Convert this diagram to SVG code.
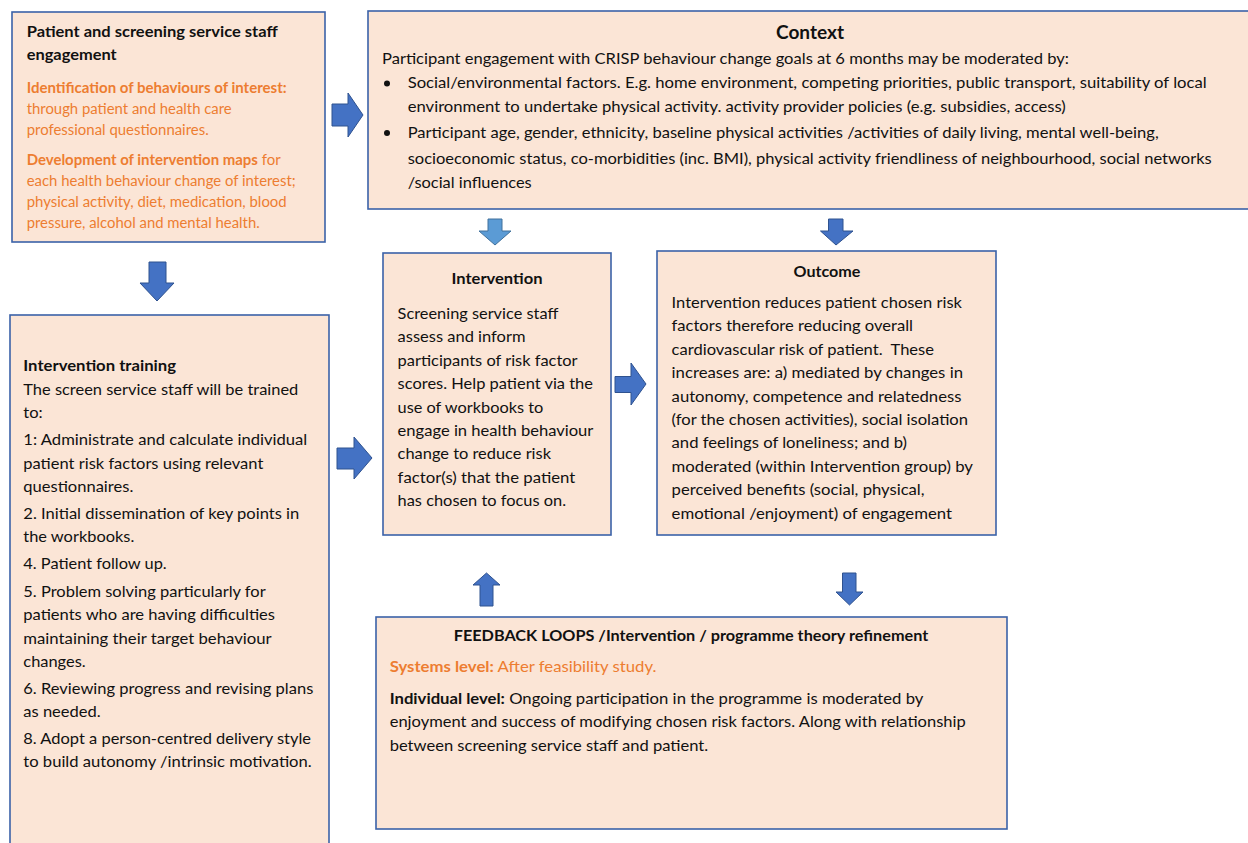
<svg xmlns="http://www.w3.org/2000/svg" width="1248" height="843" viewBox="0 0 1248 843">
<style>
.box{fill:#FBE5D6;stroke:#3B62A8;stroke-width:1.6}
text{font-family:Lato,"Liberation Sans",sans-serif;font-size:15px;fill:#111}
.b{font-weight:bold}
.o{fill:#ED7D31}
.s{font-size:14.5px}
.ttl{font-size:19px;font-weight:bold}
.arr{fill:#4472C4;stroke:#2F528F;stroke-width:1}
.arrl{fill:#5B9BD5;stroke:#41719C;stroke-width:1}
</style>
<rect width="1248" height="843" fill="#fff"/>

<g id="engagement">
<rect class="box" x="12" y="12" width="313" height="230"/>
<text class="b" x="26.7" y="37" textLength="251" lengthAdjust="spacingAndGlyphs">Patient and screening service staff</text>
<text class="b" x="26.7" y="59.5" textLength="90" lengthAdjust="spacingAndGlyphs">engagement</text>
<text class="o b s" x="26.7" y="93" textLength="260" lengthAdjust="spacingAndGlyphs">Identification of behaviours of interest:</text>
<text class="o s" x="26.7" y="114" textLength="205" lengthAdjust="spacingAndGlyphs">through patient and health care</text>
<text class="o s" x="26.7" y="135" textLength="182" lengthAdjust="spacingAndGlyphs">professional questionnaires.</text>
<text class="o s" x="26.7" y="165" textLength="254" lengthAdjust="spacingAndGlyphs"><tspan class="o b">Development of intervention maps</tspan> for</text>
<text class="o s" x="26.7" y="186" textLength="269" lengthAdjust="spacingAndGlyphs">each health behaviour change of interest;</text>
<text class="o s" x="26.7" y="207" textLength="260" lengthAdjust="spacingAndGlyphs">physical activity, diet, medication, blood</text>
<text class="o s" x="26.7" y="227.5" textLength="233" lengthAdjust="spacingAndGlyphs">pressure, alcohol and mental health.</text>
</g>

<g id="context">
<rect class="box" x="368" y="11" width="886" height="198"/>
<text class="ttl" x="810" y="39" text-anchor="middle" textLength="68" lengthAdjust="spacingAndGlyphs">Context</text>
<text x="382" y="64" textLength="687" lengthAdjust="spacingAndGlyphs">Participant engagement with CRISP behaviour change goals at 6 months may be moderated by:</text>
<circle cx="387" cy="83.5" r="3" fill="#111"/>
<text x="407.7" y="88.3" textLength="799" lengthAdjust="spacingAndGlyphs">Social/environmental factors. E.g. home environment, competing priorities, public transport, suitability of local</text>
<text x="407.7" y="112" textLength="658" lengthAdjust="spacingAndGlyphs">environment to undertake physical activity. activity provider policies (e.g. subsidies, access)</text>
<circle cx="387" cy="133" r="3" fill="#111"/>
<text x="407.7" y="138" textLength="751" lengthAdjust="spacingAndGlyphs">Participant age, gender, ethnicity, baseline physical activities /activities of daily living, mental well-being,</text>
<text x="407.7" y="163.5" textLength="804" lengthAdjust="spacingAndGlyphs">socioeconomic status, co-morbidities (inc. BMI), physical activity friendliness of neighbourhood, social networks</text>
<text x="407.7" y="188" textLength="124" lengthAdjust="spacingAndGlyphs">/social influences</text>
</g>

<g id="intervention">
<rect class="box" x="383" y="253" width="228" height="282"/>
<text class="b" x="497" y="284" text-anchor="middle" textLength="91" lengthAdjust="spacingAndGlyphs">Intervention</text>
<text x="397.6" y="319" textLength="160.7" lengthAdjust="spacingAndGlyphs">Screening service staff</text>
<text x="397.6" y="342.4" textLength="127.9" lengthAdjust="spacingAndGlyphs">assess and inform</text>
<text x="397.6" y="365.8" textLength="180" lengthAdjust="spacingAndGlyphs">participants of risk factor</text>
<text x="397.6" y="389.2" textLength="195.4" lengthAdjust="spacingAndGlyphs">scores. Help patient via the</text>
<text x="397.6" y="412.6" textLength="145.7" lengthAdjust="spacingAndGlyphs">use of workbooks to</text>
<text x="397.6" y="436" textLength="195.8" lengthAdjust="spacingAndGlyphs">engage in health behaviour</text>
<text x="397.6" y="459.4" textLength="153.4" lengthAdjust="spacingAndGlyphs">change to reduce risk</text>
<text x="397.6" y="482.8" textLength="177.7" lengthAdjust="spacingAndGlyphs">factor(s) that the patient</text>
<text x="397.6" y="506.2" textLength="168.4" lengthAdjust="spacingAndGlyphs">has chosen to focus on.</text>
</g>

<g id="outcome">
<rect class="box" x="657" y="251" width="339" height="284"/>
<text class="b" x="827" y="276.5" text-anchor="middle" textLength="67" lengthAdjust="spacingAndGlyphs">Outcome</text>
<text x="671.6" y="308" textLength="290.4" lengthAdjust="spacingAndGlyphs">Intervention reduces patient chosen risk</text>
<text x="671.6" y="331.4" textLength="241.4" lengthAdjust="spacingAndGlyphs">factors therefore reducing overall</text>
<text x="671.6" y="354.8" textLength="262.4" lengthAdjust="spacingAndGlyphs" style="white-space:pre">cardiovascular risk of patient.  These</text>
<text x="671.6" y="378.2" textLength="291.4" lengthAdjust="spacingAndGlyphs">increases are: a) mediated by changes in</text>
<text x="671.6" y="401.6" textLength="289.8" lengthAdjust="spacingAndGlyphs">autonomy, competence and relatedness</text>
<text x="671.6" y="425" textLength="296.4" lengthAdjust="spacingAndGlyphs">(for the chosen activities), social isolation</text>
<text x="671.6" y="448.4" textLength="235.4" lengthAdjust="spacingAndGlyphs">and feelings of loneliness; and b)</text>
<text x="671.6" y="471.8" textLength="301.4" lengthAdjust="spacingAndGlyphs">moderated (within Intervention group) by</text>
<text x="671.6" y="495.2" textLength="253" lengthAdjust="spacingAndGlyphs">perceived benefits (social, physical,</text>
<text x="671.6" y="518.6" textLength="280.4" lengthAdjust="spacingAndGlyphs">emotional /enjoyment) of engagement</text>
</g>

<g id="training">
<rect class="box" x="10" y="315" width="319" height="540"/>
<text class="b" x="23.3" y="371" textLength="152.7" lengthAdjust="spacingAndGlyphs">Intervention training</text>
<text x="23.3" y="395" textLength="275" lengthAdjust="spacingAndGlyphs">The screen service staff will be trained</text>
<text x="23.3" y="418" textLength="19.4" lengthAdjust="spacingAndGlyphs">to:</text>
<text x="23.3" y="445" textLength="284" lengthAdjust="spacingAndGlyphs">1: Administrate and calculate individual</text>
<text x="23.3" y="468.7" textLength="240" lengthAdjust="spacingAndGlyphs">patient risk factors using relevant</text>
<text x="23.3" y="492" textLength="110" lengthAdjust="spacingAndGlyphs">questionnaires.</text>
<text x="23.3" y="519" textLength="276" lengthAdjust="spacingAndGlyphs">2. Initial dissemination of key points in</text>
<text x="23.3" y="542" textLength="111" lengthAdjust="spacingAndGlyphs">the workbooks.</text>
<text x="23.3" y="569.4" textLength="143.4" lengthAdjust="spacingAndGlyphs">4. Patient follow up.</text>
<text x="23.3" y="596.6" textLength="242.4" lengthAdjust="spacingAndGlyphs">5. Problem solving particularly for</text>
<text x="23.3" y="619.8" textLength="251.7" lengthAdjust="spacingAndGlyphs">patients who are having difficulties</text>
<text x="23.3" y="643.6" textLength="248.4" lengthAdjust="spacingAndGlyphs">maintaining their target behaviour</text>
<text x="23.3" y="667" textLength="62.4" lengthAdjust="spacingAndGlyphs">changes.</text>
<text x="23.3" y="693.6" textLength="290" lengthAdjust="spacingAndGlyphs">6. Reviewing progress and revising plans</text>
<text x="23.3" y="717.4" textLength="77.4" lengthAdjust="spacingAndGlyphs">as needed.</text>
<text x="23.3" y="744.3" textLength="287.7" lengthAdjust="spacingAndGlyphs">8. Adopt a person-centred delivery style</text>
<text x="23.3" y="767.4" textLength="288.4" lengthAdjust="spacingAndGlyphs">to build autonomy /intrinsic motivation.</text>
</g>

<g id="feedback">
<rect class="box" x="376" y="617" width="631" height="212"/>
<text class="b" x="691" y="641" text-anchor="middle" textLength="474.6" lengthAdjust="spacingAndGlyphs">FEEDBACK LOOPS /Intervention / programme theory refinement</text>
<text class="o" x="389.7" y="671.7" textLength="266.8" lengthAdjust="spacingAndGlyphs"><tspan class="o b">Systems level:</tspan> After feasibility study.</text>
<text x="389.7" y="704" textLength="533.7" lengthAdjust="spacingAndGlyphs"><tspan class="b">Individual level:</tspan> Ongoing participation in the programme is moderated by</text>
<text x="389.7" y="727.3" textLength="576" lengthAdjust="spacingAndGlyphs">enjoyment and success of modifying chosen risk factors. Along with relationship</text>
<text x="389.7" y="750.5" textLength="318.5" lengthAdjust="spacingAndGlyphs">between screening service staff and patient.</text>
</g>

<g id="connectors">
<polygon class="arr" points="332,104 348,104 348,93 363,115 348,137 348,126 332,126"/>
<polygon class="arr" points="149,262 166,262 166,283 174,283 157,301 140,283 149,283"/>
<polygon class="arrl" points="488,219 502,219 502,231 511,231 495,245 479,231 488,231"/>
<polygon class="arr" points="828.5,219 843,219 843,231 853,231 836,245 820.5,231 828.5,231"/>
<polygon class="arr" points="337,448 354,448 354,437 372,458 354,479 354,469 337,469"/>
<polygon class="arr" points="615,376.5 631,376.5 631,363 646,384 631,405 631,392.5 615,392.5"/>
<polygon class="arr" points="480,606 493,606 493,585 500,585 486.5,573 473,585 480,585"/>
<polygon class="arr" points="842.5,573 856,573 856,592 863,592 849.5,605 836,592 842.5,592"/>
</g>
</svg>
